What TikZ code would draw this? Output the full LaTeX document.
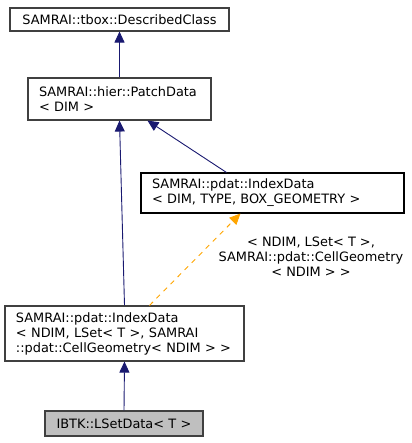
\documentclass[tikz,border=0pt]{standalone}
\usepackage{fontspec}
\setmainfont{DejaVu Sans}
\usetikzlibrary{arrows.meta,calc}
\definecolor{edgeblue}{HTML}{191970}
\definecolor{edgeorange}{HTML}{FFA500}
\definecolor{boxgray}{HTML}{404040}
\definecolor{curfill}{HTML}{BFBFBF}
\tikzset{
  cls/.style={draw=boxgray, line width=1.1pt, fill=white, rectangle, inner ysep=0pt,
    inner xsep=11pt, align=left, font=\fontsize{12.9}{15}\selectfont},
  inh/.style={draw=edgeblue, line width=0.9pt, -{Triangle[length=11pt,width=10pt]}},
  tmpl/.style={draw=edgeorange, line width=0.9pt, dash pattern=on 5pt off 5pt,
    -{Triangle[length=11pt,width=10pt]}},
  lbl/.style={align=center, inner sep=0pt, font=\fontsize{12.9}{15}\selectfont}
}
\begin{document}
\begin{tikzpicture}[x=1pt,y=-1pt]
\useasboundingbox (0,0) rectangle (411,443);
\node[cls, align=center, text width=197pt, minimum height=23pt] (b1) at (119.5,19.5) {SAMRAI::tbox::DescribedClass};
\node[cls, text width=161pt, minimum height=42pt] (b2) at (119.5,99) {SAMRAI::hier::PatchData\\\textless{} DIM \textgreater{}};
\node[cls, draw=black, text width=241pt, minimum height=40pt] (b3) at (272.5,193) {SAMRAI::pdat::IndexData\\\textless{} DIM, TYPE, BOX\_GEOMETRY \textgreater{}};
\node[cls, text width=217pt, minimum height=55pt] (b4) at (124.5,333.5) {SAMRAI::pdat::IndexData\\\textless{} NDIM, LSet\textless{} T \textgreater{}, SAMRAI\\::pdat::CellGeometry\textless{} NDIM \textgreater{} \textgreater{}};
\node[cls, align=center, fill=curfill, text width=136pt, minimum height=25pt] (b5) at (124,423.5) {IBTK::LSetData\textless{} T \textgreater{}};
\node[lbl] (lab) at (311,257) {\textless{} NDIM, LSet\textless{} T \textgreater{},\\SAMRAI::pdat::CellGeometry\\\textless{} NDIM \textgreater{} \textgreater{}};
\draw[inh] (b2.north) -- (b1.south);
\draw[inh] (b4.north) -- (b2.south);
\draw[inh] ($(b3.north west)+(86,0)$) -- ($(b2.south west)+(120,0)$);
\draw[tmpl] ($(b4.north west)+(145,0)$) -- ($(b3.south west)+(100,0)$);
\draw[inh] (b5.north) -- (b4.south);
\end{tikzpicture}
\end{document}
